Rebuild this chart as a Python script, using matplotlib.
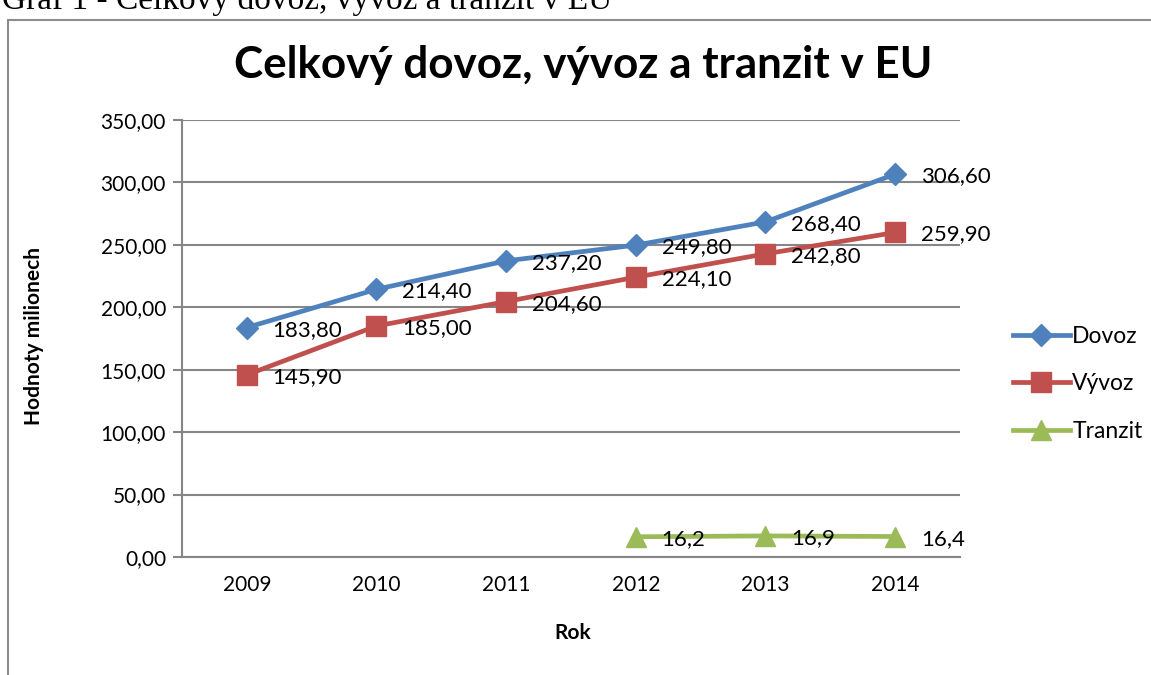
import matplotlib.pyplot as plt
from matplotlib.patches import Rectangle

# --- Data ---
years = ["2009", "2010", "2011", "2012", "2013", "2014"]
dovoz = [183.80, 214.40, 237.20, 249.80, 268.40, 306.60]
vyvoz = [145.90, 185.00, 204.60, 224.10, 242.80, 259.90]
tranzit_years = ["2012", "2013", "2014"]
tranzit = [16.2, 16.9, 16.4]
yticks = [0, 50, 100, 150, 200, 250, 300, 350]

# --- Style ---
blue = "#4F81BD"
red = "#C0504D"
green = "#9BBB59"
grid = "#868686"
font = "Lato"

plt.rcParams["font.family"] = [font, "DejaVu Sans"]

fig = plt.figure(figsize=(11.51, 6.75), dpi=100)
ax = fig.add_axes([182 / 1151, 1 - 557 / 675, 778 / 1151, 437 / 675])

# outer chart frame
fig.patches.append(Rectangle((8 / 1151, -0.1), 1.2, 1 - 20 / 675 + 0.1,
                             transform=fig.transFigure, fill=False,
                             edgecolor="#8c8c8c", linewidth=1.5))

x = list(range(len(years)))
xt = [years.index(y) for y in tranzit_years]

ax.plot(x, dovoz, color=blue, lw=3.4, marker="D", ms=11, label="Dovoz", zorder=3)
ax.plot(x, vyvoz, color=red, lw=3.4, marker="s", ms=14, label="Vývoz", zorder=3)
ax.plot(xt, tranzit, color=green, lw=3.4, marker="^", ms=15, label="Tranzit", zorder=3)

# --- Data labels ---
def fmt2(v):
    return f"{v:.2f}".replace(".", ",")

def fmt1(v):
    return f"{v:.1f}".replace(".", ",")

for xs, ys, f in [(x, dovoz, fmt2), (x, vyvoz, fmt2), (xt, tranzit, fmt1)]:
    for xi, yi in zip(xs, ys):
        ax.annotate(f(yi), (xi, yi), xytext=(18.5, -1.5), textcoords="offset points",
                    ha="left", va="center", fontsize=16, zorder=4)

# --- Axes ---
ax.set_xlim(-0.5, len(years) - 0.5)
ax.set_ylim(0, 350)
ax.set_yticks(yticks)
ax.set_yticklabels([fmt2(v) for v in yticks], fontsize=15)
ax.set_xticks(x)
ax.set_xticklabels(years, fontsize=15)
ax.tick_params(axis="y", length=6.5, width=1.5, color=grid, pad=5)
ax.tick_params(axis="x", length=0, pad=13)
ax.grid(axis="y", color=grid, lw=1.5)
ax.set_axisbelow(True)
for s in ["top", "right"]:
    ax.spines[s].set_visible(False)
for s in ["left", "bottom"]:
    ax.spines[s].set_color(grid)
    ax.spines[s].set_linewidth(1.5)

fig.text(34 / 1151, 1 - 336 / 675, "Hodnoty milionech", rotation=90, ha="center",
         va="center", fontsize=15, fontweight="bold")
fig.text(573 / 1151, 1 - 633 / 675, "Rok", ha="center", va="center",
         fontsize=15, fontweight="bold")
fig.text(583 / 1151, 1 - 65 / 675, "Celkový dovoz, vývoz a tranzit v EU",
         ha="center", va="center", fontsize=31.7, fontweight="bold")

# caption cut off at the top edge
fig.text(2 / 1151, 1 - 9 / 675, "Graf 1 - Celkový dovoz, vývoz a tranzit v EU",
         ha="left", va="baseline", fontsize=24, family="Liberation Serif")

ax.legend(loc="center left", bbox_to_anchor=(992 / 1151, 1 - 384 / 675),
          bbox_transform=fig.transFigure, frameon=False, fontsize=16.5,
          handlelength=2.5, handletextpad=0.1, labelspacing=1.15)

fig.savefig("out.png", dpi=100)
